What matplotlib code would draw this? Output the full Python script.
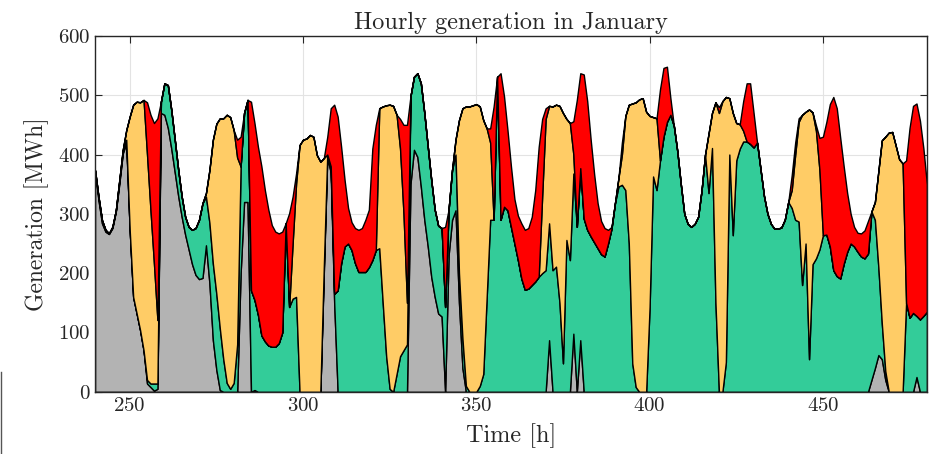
import numpy as np
import matplotlib
matplotlib.use("Agg")
import matplotlib.pyplot as plt
from matplotlib.lines import Line2D

plt.rcParams['font.family'] = 'cmr10'
plt.rcParams['mathtext.fontset'] = 'cm'
plt.rcParams['axes.formatter.use_mathtext'] = True

hours = np.arange(240, 481)

# cumulative tops of each stacked layer [MWh], hour 240..480
total_top = [
    374, 329, 290, 273, 267, 278, 306, 357, 408, 441,
    464, 484, 489, 488, 492, 488, 467, 453, 461, 489,
    520, 517, 475, 425, 374, 329, 295, 278, 273, 276,
    290, 318, 335, 374, 425, 452, 461, 461, 467, 463,
    441, 425, 430, 470, 492, 489, 453, 413, 380, 340,
    307, 281, 270, 267, 270, 281, 301, 329, 368, 416,
    425, 427, 433, 430, 399, 388, 394, 430, 478, 484,
    464, 413, 357, 310, 286, 276, 273, 276, 290, 307,
    410, 450, 478, 481, 483, 484, 482, 467, 460, 450,
    450, 498, 531, 537, 520, 470, 413, 357, 307, 280,
    276, 278, 307, 374, 425, 458, 478, 481, 481, 483,
    485, 481, 458, 444, 444, 481, 531, 537, 498, 441,
    380, 325, 297, 284, 273, 276, 295, 340, 413, 460,
    478, 482, 481, 484, 482, 470, 460, 453, 456, 492,
    537, 535, 490, 425, 367, 318, 288, 276, 273, 278,
    318, 360, 420, 465, 484, 486, 488, 493, 495, 472,
    465, 463, 461, 510, 546, 548, 495, 448, 405, 350,
    300, 283, 278, 283, 295, 340, 400, 435, 470, 488,
    480, 490, 497, 495, 470, 453, 451, 490, 520, 520,
    470, 420, 375, 330, 300, 283, 275, 275, 277, 290,
    320, 365, 420, 461, 467, 472, 476, 471, 449, 428,
    430, 455, 485, 497, 478, 428, 380, 335, 300, 278,
    268, 267, 272, 288, 304, 320, 372, 424, 430, 437,
    438, 415, 392, 385, 390, 445, 482, 486, 457, 410, 350,
]

orange_top = [
    373, 328, 289, 273, 267, 278, 306, 357, 408, 441,
    464, 484, 489, 488, 492, 400, 306, 216, 121, 489,
    520, 517, 475, 425, 374, 329, 295, 278, 273, 276,
    290, 318, 335, 374, 425, 452, 461, 461, 467, 463,
    441, 395, 380, 470, 492, 171, 155, 130, 95, 85,
    78, 76, 76, 82, 100, 284, 143, 250, 351, 416,
    425, 427, 433, 430, 399, 388, 394, 400, 380, 165,
    171, 217, 245, 250, 239, 217, 202, 202, 202, 210,
    222, 239, 478, 481, 483, 484, 482, 467, 410, 300,
    150, 498, 531, 537, 520, 470, 413, 357, 307, 280,
    276, 143, 307, 374, 425, 458, 478, 481, 481, 483,
    485, 481, 458, 444, 420, 290, 531, 290, 312, 306,
    278, 250, 222, 191, 172, 174, 180, 186, 194, 330,
    460, 482, 481, 484, 482, 470, 460, 453, 400, 278,
    377, 292, 273, 262, 252, 242, 232, 228, 250, 275,
    318, 360, 400, 465, 484, 486, 488, 493, 495, 472,
    465, 463, 461, 390, 430, 455, 467, 448, 405, 350,
    300, 283, 278, 283, 295, 340, 400, 435, 470, 488,
    470, 490, 497, 495, 470, 453, 451, 440, 422, 418,
    412, 420, 375, 330, 300, 283, 275, 275, 277, 290,
    320, 340, 400, 455, 467, 472, 476, 471, 440, 374,
    264, 265, 245, 205, 195, 191, 216, 236, 250, 245,
    236, 228, 225, 233, 304, 320, 372, 424, 430, 437,
    438, 415, 392, 385, 150, 125, 133, 128, 122, 128, 135,
]

green_top = [
    373, 328, 289, 273, 267, 278, 306, 355, 406, 425,
    273, 160, 132, 104, 70, 20, 14, 14, 14, 489,
    520, 517, 475, 425, 374, 329, 295, 278, 273, 276,
    290, 318, 329, 285, 216, 165, 107, 55, 15, 5,
    15, 80, 380, 470, 492, 171, 155, 130, 95, 85,
    78, 76, 76, 82, 100, 284, 143, 157, 160, 0,
    0, 0, 0, 0, 0, 0, 210, 400, 380, 165,
    171, 217, 245, 250, 239, 217, 202, 202, 202, 210,
    222, 239, 242, 150, 60, 5, 0, 30, 60, 70,
    80, 498, 531, 537, 520, 470, 413, 357, 307, 280,
    276, 143, 307, 374, 400, 200, 90, 10, 0, 0,
    0, 10, 30, 160, 290, 290, 531, 290, 312, 306,
    278, 250, 222, 191, 172, 174, 180, 186, 194, 200,
    205, 284, 205, 211, 150, 48, 256, 222, 368, 278,
    377, 292, 273, 262, 252, 242, 232, 228, 250, 275,
    318, 346, 349, 340, 250, 48, 8, 0, 0, 0,
    143, 363, 340, 390, 430, 455, 467, 448, 405, 350,
    300, 283, 278, 283, 295, 340, 400, 335, 411, 150,
    0, 0, 50, 400, 264, 390, 410, 422, 422, 418,
    412, 420, 375, 330, 300, 283, 275, 275, 277, 290,
    320, 310, 290, 287, 180, 250, 55, 215, 225, 240,
    264, 265, 245, 205, 195, 191, 216, 236, 250, 245,
    236, 228, 225, 233, 304, 290, 210, 115, 35, 0,
    0, 0, 0, 0, 150, 125, 133, 128, 122, 128, 135,
]

gray_top = [
    371, 323, 284, 270, 266, 276, 304, 351, 402, 419,
    273, 160, 132, 104, 70, 14, 8, 2, 5, 470,
    467, 445, 410, 370, 330, 295, 265, 240, 215, 197,
    190, 192, 247, 183, 87, 37, 3, 0, 0, 0,
    0, 0, 200, 320, 320, 0, 3, 0, 0, 0,
    0, 0, 0, 0, 0, 0, 0, 0, 0, 0,
    0, 0, 0, 0, 0, 0, 200, 395, 370, 150,
    0, 0, 0, 0, 0, 0, 0, 0, 0, 0,
    0, 0, 0, 0, 0, 0, 0, 0, 0, 0,
    0, 350, 408, 396, 346, 290, 245, 194, 160, 132,
    127, 0, 230, 290, 306, 150, 40, 0, 0, 0,
    0, 0, 0, 0, 0, 0, 0, 0, 0, 0,
    0, 0, 0, 0, 0, 0, 0, 0, 0, 0,
    0, 87, 0, 0, 0, 0, 0, 0, 98, 0,
    87, 0, 0, 0, 0, 0, 0, 0, 0, 0,
    0, 0, 0, 0, 0, 0, 0, 0, 0, 0,
    0, 0, 0, 0, 0, 0, 0, 0, 0, 0,
    0, 0, 0, 0, 0, 0, 0, 0, 0, 0,
    0, 0, 0, 0, 0, 0, 0, 0, 0, 0,
    0, 0, 0, 0, 0, 0, 0, 0, 0, 0,
    0, 0, 0, 0, 0, 0, 0, 0, 0, 0,
    0, 0, 0, 0, 0, 0, 0, 0, 0, 0,
    0, 0, 0, 0, 20, 40, 62, 55, 20, 0,
    0, 0, 0, 0, 0, 0, 0, 25, 0, 0, 0,
]

colors = ['#b3b3b3', '#33cc99', '#ffcc66', '#ff0000']

# layer values from the cumulative tops
tops = np.array([gray_top, green_top, orange_top, total_top], dtype=float)
layers = np.clip(np.diff(tops, axis=0, prepend=0), 0, None)

fig = plt.figure(figsize=(9.41, 4.54), dpi=100)
ax = fig.add_axes([0.101, 0.137, 0.884, 0.784])

ax.stackplot(hours, layers, colors=colors, edgecolor='black', linewidth=1.0)

ax.set_xlim(240, 480)
ax.set_ylim(0, 600)
ax.set_xticks([250, 300, 350, 400, 450])
ax.set_yticks(range(0, 601, 100))
ax.grid(True, color='#e3e3e3', linewidth=0.8)
ax.set_axisbelow(True)
ax.tick_params(direction='in', top=True, right=True, length=5, width=0.8,
               labelsize=15, colors='#262626')
for sp in ax.spines.values():
    sp.set_linewidth(1.0)
    sp.set_color('#262626')

ax.set_title('Hourly generation in January', fontsize=17.5, color='#262626', pad=5)
ax.set_xlabel('Time [h]', fontsize=17.5, color='#262626', labelpad=6)
ax.set_ylabel('Generation [MWh]', fontsize=17, color='#262626', labelpad=6)

fig.add_artist(Line2D([0.0008, 0.0008], [0.0, 0.18], color='#555555', linewidth=1.0))

fig.savefig('out.png', dpi=100)
